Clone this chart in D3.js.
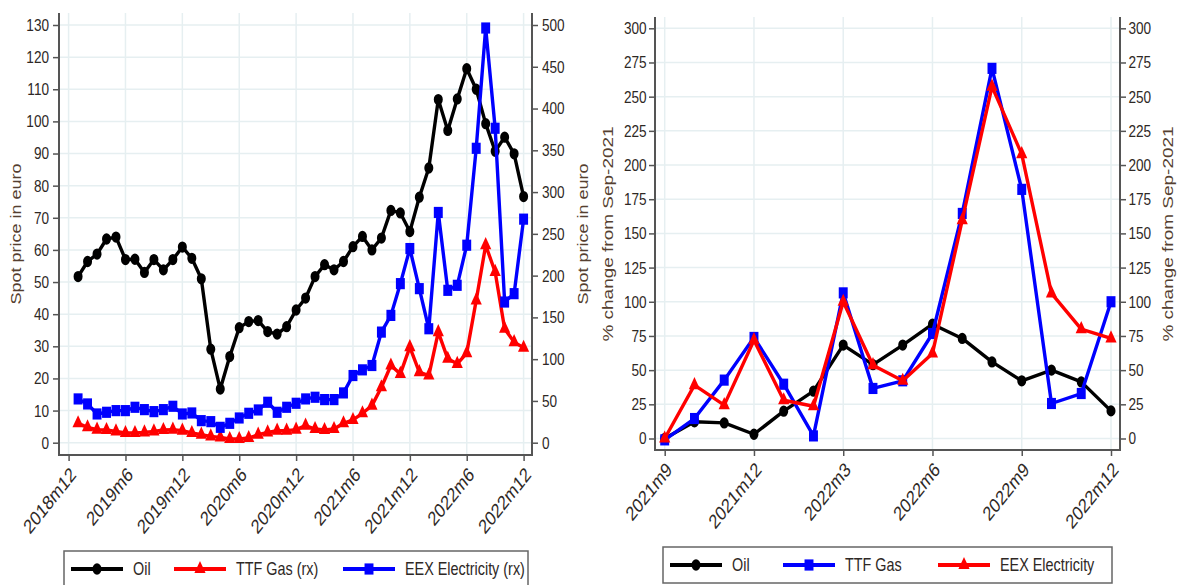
<!DOCTYPE html>
<html>
<head>
<meta charset="utf-8">
<script src="https://cdn.jsdelivr.net/npm/d3@7"></script>
<style>
  body { margin: 0; background: #fff; }
  text { font-family: "Liberation Sans", Arial, sans-serif; }
</style>
</head>
<body>
<svg id="chart" width="1178" height="585"></svg>
<script>
// left panel: monthly spot prices, 2019m1 .. 2022m12
var leftTickLabels = ['2018m12', '2019m6', '2019m12', '2020m6', '2020m12', '2021m6', '2021m12', '2022m6', '2022m12'];
var oilPrice = [51.7, 56.4, 58.7, 63.4, 64, 57, 57.1, 53, 57, 53.8, 57, 60.9,
                57.4, 51, 29.1, 16.7, 26.8, 35.8, 37.7, 38, 34.6, 33.8, 36.1, 41.3,
                45, 51.7, 55.4, 53.8, 56.4, 61, 64.2, 60, 63.7, 72.3, 71.5, 65.7,
                76.4, 85.5, 106.8, 97.2, 107, 116.4, 110, 99.3, 90.7, 95.1, 89.9, 76.6];
var ttfPrice = [23.2, 18.4, 15.6, 15.2, 13.6, 11.6, 11.6, 12.4, 13.6, 15.2, 15.6, 14.4,
                11.6, 9.6, 7.6, 6.4, 4.4, 4.4, 5.6, 9.6, 12.4, 14.4, 14.4, 15.6,
                20.4, 16.4, 15.2, 16.4, 23.2, 27.2, 35.2, 44.4, 66.4, 92.4, 82.4, 114.4,
                84.4, 80.4, 132.4, 100.4, 94.4, 107.2, 170.4, 236.4, 204.4, 136.4, 120.4, 113.6];
var eexPrice = [52.4, 46.4, 34.4, 36.4, 38.4, 38.4, 42.4, 39.6, 37.2, 39.6, 43.6, 34.4,
                35.6, 26.4, 25.2, 18.4, 23.2, 29.6, 35.2, 39.2, 48.4, 36.4, 42.4, 47.2,
                52.4, 54.4, 51.6, 51.6, 59.6, 80.4, 87.2, 92.4, 132.4, 152.4, 190.4, 232.4,
                184.4, 136.4, 275.6, 182.4, 188.4, 236.4, 352.4, 496.4, 376.4, 168.4, 178.4, 267.6];

// right panel: % change from 2021m9, 2021m9 .. 2022m12
var rightTickLabels = ['2021m9', '2021m12', '2022m3', '2022m6', '2022m9', '2022m12'];
var oilChange = [0, 12.2, 11.4, 3.1, 20, 34.6, 68.3, 54, 68.3, 83.6, 73.2, 56, 42.2, 50, 41.4, 20.2];
var ttfChange = [-1, 14.6, 42.7, 73.9, 39.7, 1.9, 106.5, 36.6, 42.2, 76.8, 164.6, 270.7, 182.2, 25.6, 32.9, 100];
var eexChange = [0, 39, 24.4, 71.9, 28, 23.6, 100, 53.6, 42.2, 62.2, 159.7, 257.3, 208, 106.1, 80, 73.2];

var svg = d3.select('#chart'),
    tickCol = '#2e2825',
    titleCol = '#553f30',
    gridCol = '#e6eff1',
    axisCol = '#555',
    squash = 0.8;

var marks = {
  circle: d3.symbol().type(d3.symbolCircle).size(100),
  square: d3.symbol().type(d3.symbolSquare).size(125),
  triangle: d3.symbol().type(d3.symbolTriangle).size(85)
};

function drawPanel(p) {
  var g = svg.append('g'),
      x = d3.scaleLinear().domain([0, p.nMonths]).range(p.xTickRange),
      yL = d3.scaleLinear().domain(p.yDomL).range(p.yRange),
      yR = d3.scaleLinear().domain(p.yDomR).range(p.yRange),
      tickIdx = p.tickLabels.map(function(d, i) { return i * p.tickEvery; });

  // grid
  g.selectAll('.hg').data(p.yTicksL).enter().append('line')
    .attr('x1', p.left).attr('x2', p.right)
    .attr('y1', function(d) { return yL(d); }).attr('y2', function(d) { return yL(d); })
    .attr('stroke', gridCol).attr('stroke-width', 1.5);
  g.selectAll('.vg').data(tickIdx).enter().append('line')
    .attr('y1', p.top).attr('y2', p.bottom)
    .attr('x1', function(d) { return x(d); }).attr('x2', function(d) { return x(d); })
    .attr('stroke', gridCol).attr('stroke-width', 1.5);

  // axes
  var axL = g.append('g').attr('transform', 'translate(' + p.left + ',0)')
    .call(d3.axisLeft(yL).tickValues(p.yTicksL).tickSize(6).tickPadding(p.pad));
  var axR = g.append('g').attr('transform', 'translate(' + p.right + ',0)')
    .call(d3.axisRight(yR).tickValues(p.yTicksR).tickSize(6).tickPadding(p.pad));
  var axB = g.append('g').attr('transform', 'translate(0,' + p.bottom + ')')
    .call(d3.axisBottom(x).tickValues(tickIdx).tickSize(6)
      .tickFormat(function(d, i) { return p.tickLabels[i]; }));

  [axL, axR, axB].forEach(function(ax) {
    ax.select('.domain').remove();
    ax.selectAll('.tick line').attr('stroke', axisCol).attr('stroke-width', 1.5);
    ax.selectAll('.tick text').attr('fill', tickCol).style('font-size', '17px')
      .attr('transform', 'scale(' + squash + ',1)');
  });
  axB.selectAll('.tick text')
    .style('font-size', '20px')
    .attr('text-anchor', 'end')
    .attr('x', 0).attr('y', 0).attr('dy', '0.35em')
    .attr('transform', 'translate(4,16) scale(' + squash + ',1) rotate(-45)');

  // frame
  g.append('path')
    .attr('d', 'M' + p.left + ',' + p.top + 'V' + p.bottom + 'H' + p.right + 'V' + p.top)
    .attr('fill', 'none').attr('stroke', axisCol).attr('stroke-width', 2);

  // titles
  [[p.titleLx, p.titleL], [p.titleRx, p.titleR]].forEach(function(t) {
    g.append('text')
      .attr('transform', 'translate(' + t[0] + ',' + p.titleY + ') scale(' + squash + ',1) rotate(-90)')
      .attr('text-anchor', 'middle').attr('dy', '0.35em')
      .attr('fill', titleCol).style('font-size', p.titleSize + 'px')
      .text(t[1]);
  });

  // series
  p.series.forEach(function(s) {
    var y = s.axis === 'R' ? yR : yL,
        pts = s.values.map(function(v, i) { return [x(i + p.offset), y(v)]; });
    g.append('path').attr('d', d3.line()(pts))
      .attr('fill', 'none').attr('stroke', s.color).attr('stroke-width', 3.4)
      .attr('stroke-linejoin', 'round');
    g.selectAll(null).data(pts).enter().append('path')
      .attr('d', marks[s.mark]())
      .attr('transform', function(d) { return 'translate(' + d[0] + ',' + d[1] + ') scale(' + squash + ',1)'; })
      .attr('fill', s.color);
  });

  // legend
  var lg = g.append('g');
  lg.append('rect')
    .attr('x', p.legend.x).attr('y', p.legend.y)
    .attr('width', p.legend.w).attr('height', p.legend.h)
    .attr('fill', '#fff').attr('stroke', '#666').attr('stroke-width', 1.5);
  p.series.forEach(function(s, i) {
    var lx = p.legend.items[i], ly = p.legend.y + 18;
    lg.append('line').attr('x1', lx).attr('x2', lx + 52).attr('y1', ly).attr('y2', ly)
      .attr('stroke', s.color).attr('stroke-width', 4);
    lg.append('path').attr('d', marks[s.mark]())
      .attr('transform', 'translate(' + (lx + 26) + ',' + ly + ') scale(' + squash + ',1)')
      .attr('fill', s.color);
    lg.append('text')
      .attr('transform', 'translate(' + (lx + 62) + ',' + ly + ') scale(' + squash + ',1)')
      .attr('dy', '0.35em').attr('fill', tickCol).style('font-size', '18px')
      .text(s.label);
  });
}

drawPanel({
  left: 59, right: 532, top: 13, bottom: 455,
  nMonths: 48, tickEvery: 6, offset: 1,
  xTickRange: [68.6, 523.6],
  yRange: [442.7, 25],
  yDomL: [0, 130], yDomR: [0, 500],
  yTicksL: d3.range(0, 131, 10), yTicksR: d3.range(0, 501, 50),
  pad: 6.5,
  tickLabels: leftTickLabels,
  titleL: 'Spot price in euro', titleR: 'Spot price in euro',
  titleLx: 16, titleRx: 583, titleY: 234, titleSize: 18,
  series: [
    {label: 'Oil', values: oilPrice, axis: 'L', color: '#000', mark: 'circle'},
    {label: 'TTF Gas (rx)', values: ttfPrice, axis: 'R', color: '#f00', mark: 'triangle'},
    {label: 'EEX Electricity (rx)', values: eexPrice, axis: 'R', color: '#00f', mark: 'square'}
  ],
  legend: {x: 64, y: 551, w: 464, h: 50, items: [71, 174, 343]}
});

drawPanel({
  left: 655, right: 1120, top: 17, bottom: 450,
  nMonths: 15, tickEvery: 3, offset: 0,
  xTickRange: [664.7, 1111],
  yRange: [438.5, 28.3],
  yDomL: [0, 300], yDomR: [0, 300],
  yTicksL: d3.range(0, 301, 25), yTicksR: d3.range(0, 301, 25),
  pad: 4.5,
  tickLabels: rightTickLabels,
  titleL: '% change from Sep-2021', titleR: '% change from Sep-2021',
  titleLx: 608, titleRx: 1168, titleY: 234, titleSize: 19,
  series: [
    {label: 'Oil', values: oilChange, axis: 'L', color: '#000', mark: 'circle'},
    {label: 'TTF Gas', values: ttfChange, axis: 'L', color: '#00f', mark: 'square'},
    {label: 'EEX Electricity', values: eexChange, axis: 'L', color: '#f00', mark: 'triangle'}
  ],
  legend: {x: 663, y: 547, w: 449, h: 36, items: [670, 783, 938]}
});
</script>
</body>
</html>
